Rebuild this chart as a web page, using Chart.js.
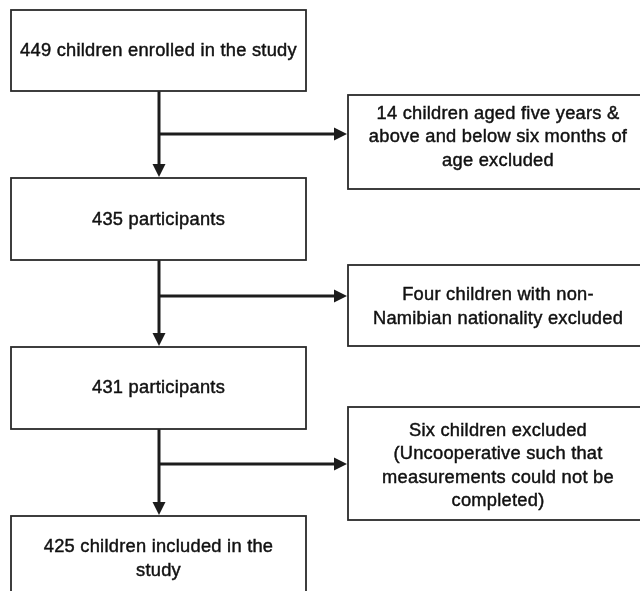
<!DOCTYPE html>
<html>
<head>
<meta charset="utf-8">
<script src="https://cdn.jsdelivr.net/npm/chart.js@4"></script>
<style>
html,body{margin:0;padding:0;background:#fff;overflow:hidden}
#c{display:block}
</style>
</head>
<body>
<canvas id="c" width="640" height="591"></canvas>
<script>
// ---- data ----
const stageCounts = [449, 435, 431, 425];
const stageLines = [
  ['449 children enrolled in the study'],
  ['435 participants'],
  ['431 participants'],
  ['425 children included in the', 'study']
];
const excludedCounts = [14, 4, 6];
const excludedLines = [
  ['14 children aged five years &', 'above and below six months of', 'age excluded'],
  ['Four children with non-', 'Namibian nationality excluded'],
  ['Six children excluded', '(Uncooperative such that', 'measurements could not be', 'completed)']
];

// ---- layout (in scale units) ----
const mainBoxes = [
  {x0: 11, x1: 306, y0: 10, y1: 91, ty: 51},
  {x0: 11, x1: 306, y0: 178, y1: 260, ty: 220},
  {x0: 11, x1: 306, y0: 347, y1: 429, ty: 388},
  {x0: 11, x1: 306, y0: 516, y1: 605, ty: 559}
];
const sideBoxes = [
  {x0: 348, x1: 648, y0: 95, y1: 189, ty: 137},
  {x0: 348, x1: 648, y0: 265, y1: 346, ty: 307},
  {x0: 348, x1: 648, y0: 407, y1: 520, ty: 466}
];
const branchY = [134, 296, 464];
const trunkX = 159;

const flowPlugin = {
  id: 'flow',
  afterDraw(chart) {
    const ctx = chart.ctx;
    const xs = chart.scales.x, ys = chart.scales.y;
    const X = v => xs.getPixelForValue(v);
    const Y = v => ys.getPixelForValue(v);
    ctx.save();
    const lineCol = '#1c1c1c';
    function box(b, lines) {
      ctx.lineWidth = 1.8;
      ctx.strokeStyle = '#2a2a2a';
      ctx.strokeRect(X(b.x0), Y(b.y0), X(b.x1) - X(b.x0), Y(b.y1) - Y(b.y0));
      ctx.fillStyle = '#111';
      ctx.strokeStyle = '#111';
      ctx.lineWidth = 0.45;
      ctx.font = '18.3px "Liberation Sans", Arial, sans-serif';
      ctx.letterSpacing = '0.25px';
      ctx.textAlign = 'center';
      ctx.textBaseline = 'middle';
      const lh = 23.5;
      const cx = (X(b.x0) + X(b.x1)) / 2;
      const start = Y(b.ty) - (lines.length - 1) * lh / 2;
      lines.forEach((t, i) => { ctx.fillText(t, cx, start + i * lh); ctx.strokeText(t, cx, start + i * lh); });
    }
    function arrowDown(x, y0, y1) {
      ctx.strokeStyle = lineCol; ctx.fillStyle = lineCol; ctx.lineWidth = 3;
      ctx.beginPath(); ctx.moveTo(X(x), Y(y0)); ctx.lineTo(X(x), Y(y1) - 12); ctx.stroke();
      ctx.beginPath();
      ctx.moveTo(X(x) - 6.5, Y(y1) - 13); ctx.lineTo(X(x) + 6.5, Y(y1) - 13); ctx.lineTo(X(x), Y(y1)); ctx.closePath(); ctx.fill();
    }
    function arrowRight(y, x0, x1) {
      ctx.strokeStyle = lineCol; ctx.fillStyle = lineCol; ctx.lineWidth = 3;
      ctx.beginPath(); ctx.moveTo(X(x0), Y(y)); ctx.lineTo(X(x1) - 12, Y(y)); ctx.stroke();
      ctx.beginPath();
      ctx.moveTo(X(x1) - 13, Y(y) - 6.5); ctx.lineTo(X(x1) - 13, Y(y) + 6.5); ctx.lineTo(X(x1), Y(y)); ctx.closePath(); ctx.fill();
    }
    for (let i = 0; i < stageCounts.length - 1; i++) {
      arrowDown(trunkX, mainBoxes[i].y1, mainBoxes[i + 1].y0 - 1);
      arrowRight(branchY[i], trunkX, sideBoxes[i].x0 - 1);
    }
    stageLines.forEach((l, i) => box(mainBoxes[i], l));
    excludedLines.forEach((l, i) => box(sideBoxes[i], l));
    ctx.restore();
  }
};

new Chart(document.getElementById('c'), {
  type: 'scatter',
  data: { datasets: [{ data: stageCounts.map((v, i) => ({x: trunkX, y: mainBoxes[i].ty})), pointRadius: 0 }] },
  options: {
    responsive: false,
    animation: false,
    layout: { padding: 0 },
    plugins: { legend: { display: false }, tooltip: { enabled: false } },
    scales: {
      x: { type: 'linear', min: 0, max: 640, display: false },
      y: { type: 'linear', min: 0, max: 591, reverse: true, display: false }
    }
  },
  plugins: [flowPlugin]
});
</script>
</body>
</html>
